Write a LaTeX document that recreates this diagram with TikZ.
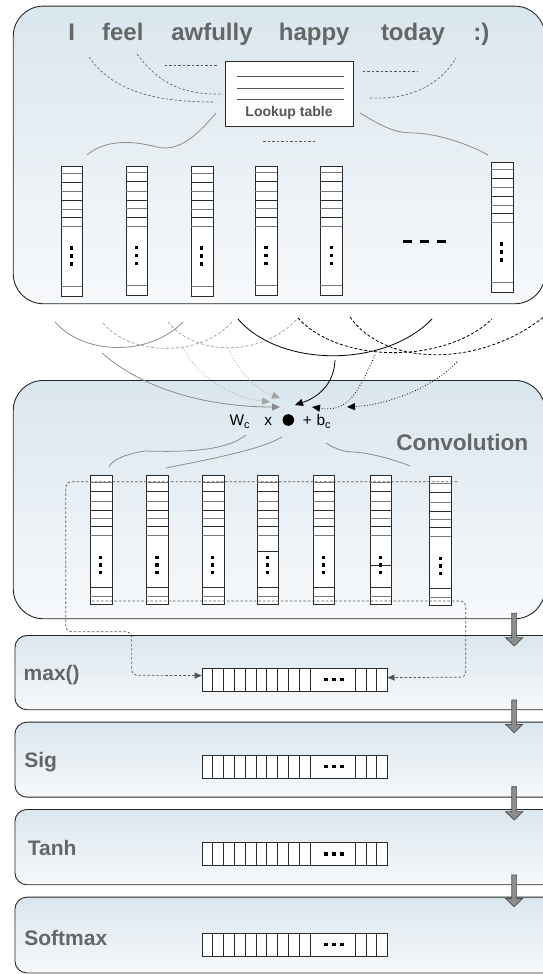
\documentclass[tikz,border=0pt]{standalone}
\usepackage{fontspec}
\setmainfont{Liberation Sans}
\usetikzlibrary{arrows.meta,calc}
\definecolor{pbtop}{HTML}{DAE6EE}
\definecolor{pbbot}{HTML}{F7F9FB}
\definecolor{wordgray}{HTML}{666666}
\definecolor{lutgray}{HTML}{555555}
\definecolor{linedark}{HTML}{2A2A2A}
\definecolor{linegray}{HTML}{7A7A7A}
\definecolor{arcgray}{HTML}{8C8C8C}
\definecolor{arclight}{HTML}{A4A4A4}
\definecolor{dashgray}{HTML}{555555}
\definecolor{blockfill}{HTML}{8E8E8E}

\newcommand{\topvec}[3]{%
  \node[vbox, minimum height=129.7pt] (#1) at (#2,#3) {};
  \begin{scope}[shift={(#2,#3)}]
    \foreach \d/\c in {7.3/linegray,16.3/linedark,25.7/linegray,34.7/linedark,43/linegray,51.7/linedark,60.7/linegray,120/linegray}
      \draw[\c, line width=0.8pt] (0,\d) -- (21.7,\d);
    \foreach \d in {82,90,98} \fill (9.25,\d-1.6) rectangle ++(3.2,3.2);
  \end{scope}}

\newcommand{\convvec}[3]{%
  \node[vbox, minimum height=129.3pt] (#1) at (#2,#3) {};
  \begin{scope}[shift={(#2,#3)}]
    \foreach \d/\c in {7.3/linegray,16/linedark,26/linegray,35/linedark,43.3/linegray,51.7/linedark,60.7/linegray,112.3/linedark,121/linegray}
      \draw[\c, line width=0.8pt] (0,\d) -- (21.7,\d);
    \foreach \d in {82.3,90,97.7} \fill (9.25,\d-1.6) rectangle ++(3.2,3.2);
  \end{scope}}

\newcommand{\hvec}[2]{%
  \node[hbox] (#1) at (201.7,#2) {};
  \begin{scope}[shift={(201.7,#2)}]
    \foreach \d in {11,21.6,32.6,43.6,54.3,65,75.6,86.6,97.6,108.3,154,165,175}
      \draw[linedark, line width=0.8pt] (\d,0) -- (\d,23);
    \foreach \d in {-8,0,8} \fill (132.3+\d-1.6,11.6-1.6) rectangle ++(3.2,3.2);
  \end{scope}}

\newcommand{\blockarr}[2]{%
  \filldraw[blockarrow] (511.8,#1) -- (516.6,#1) -- (516.6,#2-8.3) -- (522.8,#2-8.3) -- (514.2,#2) -- (505.6,#2-8.3) -- (511.8,#2-8.3) -- cycle;}

\begin{document}
\begin{tikzpicture}[x=1pt,y=-1pt,
  panel/.style={draw=black!85, line width=0.9pt, rounded corners=30pt, top color=pbtop, bottom color=pbbot, inner sep=0pt, anchor=north west},
  lpanel/.style={draw=black!85, line width=0.9pt, rounded corners=12pt, top color=pbtop, bottom color=pbbot, inner sep=0pt, anchor=north west, minimum width=540.5pt},
  vbox/.style={draw=linedark, fill=white, line width=0.8pt, minimum width=21.7pt, inner sep=0pt, anchor=north west},
  hbox/.style={draw=linedark, fill=white, line width=0.8pt, minimum width=185pt, minimum height=23pt, inner sep=0pt, anchor=north west},
  word/.style={text=wordgray, font=\fontsize{24}{24}\selectfont\bfseries, anchor=base, inner sep=0pt},
  lbl/.style={text=wordgray, font=\fontsize{21}{21}\selectfont\bfseries, inner sep=0pt},
  eq/.style={text=black, font=\fontsize{15.4}{15.4}\selectfont, anchor=base, inner sep=0pt},
  tdash/.style={draw=dashgray, line width=0.6pt, dash pattern=on 2.5pt off 2pt},
  arcg/.style={draw=arcgray, line width=0.8pt},
  arcl/.style={draw=arclight, line width=0.8pt},
  arck/.style={draw=black, line width=0.8pt},
  tip/.style={-{Triangle[length=8pt,width=7pt]}},
  mdash/.style={draw=dashgray, line width=0.7pt, dash pattern=on 2.5pt off 2pt, rounded corners=5pt, -{Triangle[length=7pt,width=6pt]}},
  blockarrow/.style={fill=blockfill, draw=black!70, line width=0.7pt}
]
\useasboundingbox (0,0) rectangle (543,974);

% ---------- panels ----------
\node[panel, minimum width=531.7pt, minimum height=297.6pt] (toppanel) at (12.8,5.7) {};
\node[panel, minimum width=531.7pt, minimum height=238.3pt] (convpanel) at (12.8,380) {};
\node[lpanel, minimum height=74.3pt] (maxpanel) at (14.5,635) {};
\node[lpanel, minimum height=75pt] (sigpanel) at (14.5,721.7) {};
\node[lpanel, minimum height=75.3pt] (tanhpanel) at (14.5,809) {};
\node[lpanel, minimum height=75.8pt] (softpanel) at (14.5,896.7) {};

% ---------- words ----------
\node[word] (w1) at (71.8,41) {I};
\node[word] (w2) at (122.8,41) {feel};
\node[word] (w3) at (212,41) {awfully};
\node[word] (w4) at (314.2,41) {happy};
\node[word] (w5) at (413,41) {today};
\node[word] (w6) at (481.3,41) {:)};

% ---------- lookup table ----------
\node[draw=linedark, fill=white, line width=0.8pt, minimum width=128pt, minimum height=65pt, inner sep=0pt, anchor=north west] (lut) at (225,60.7) {};
\foreach \yy in {76.7,88.3,99.3} \draw[lutgray, line width=0.9pt] (236.5,\yy) -- (344,\yy);
\node[text=lutgray, font=\fontsize{14}{14}\selectfont\bfseries, inner sep=0pt] (luttext) at (289,113.3) {Lookup table};

% dashed links words -> table
\draw[tdash] (89,57) .. controls (115,95) and (165,102) .. (214,102);
\draw[tdash] (137,54) .. controls (160,85) and (185,95) .. (223,94);
\draw[tdash] (164.5,65.7) -- (218,65.7);
\draw[tdash] (362.5,71) -- (417,71);
\draw[tdash] (370,98) .. controls (410,100) and (440,85) .. (456,58);
\draw[tdash] (263,141.7) -- (316,141.7);
% table -> vectors
\draw[arcg] (87,155) .. controls (105,140) and (130,140) .. (157,147) .. controls (180,153) and (200,132) .. (216,113);
\draw[arcg] (360,113) .. controls (385,128) and (395,133) .. (415,133) .. controls (440,134) and (470,145) .. (488,155);

% ---------- word vectors ----------
\topvec{t1}{60.7}{166}
\topvec{t2}{125.5}{165.5}
\topvec{t3}{190.8}{166}
\topvec{t4}{255.2}{165.5}
\topvec{t5}{320.3}{165.5}
\topvec{t6}{491}{162}
\foreach \xx in {402.7,420,437} \draw[line width=2.7pt] (\xx,241.7) -- (\xx+9.3,241.7);

% ---------- window arcs ----------
\draw[arcg] (55,322) .. controls (85,356) and (150,356) .. (183,322);
\draw[arcl, dash pattern=on 3pt off 2pt] (103,323) .. controls (130,356) and (200,358) .. (232,322);
\draw[arcl, dash pattern=on 3pt off 2pt] (168,322) .. controls (195,356) and (262,358) .. (298,318);
\draw[arck] (238,319) .. controls (280,368) and (385,368) .. (432,319);
\draw[arck, dash pattern=on 3pt off 2pt] (298,318) .. controls (340,364) and (445,364) .. (492,319);
\draw[arck, dash pattern=on 3pt off 2pt] (350,317) .. controls (385,367) and (480,368) .. (545,316);

% ---------- convolution operator ----------
\node[eq, anchor=base west] (wc) at (229.3,425) {W\raisebox{-3pt}{\fontsize{11}{11}\selectfont c}};
\node[eq] (times) at (268.3,425) {x};
\node[circle, fill=black, inner sep=0pt, minimum size=11.6pt] (dot) at (288.3,420) {};
\node[eq] (plus) at (307.3,425) {+};
\node[eq, anchor=base west] (bc) at (316.3,425) {b\raisebox{-3pt}{\fontsize{11}{11}\selectfont c}};

\coordinate (ta) at (280,407);
\coordinate (tb) at (270,402);
\coordinate (tc) at (280,398);
\coordinate (td) at (295,405);
\coordinate (te) at (312,407);
\coordinate (tf) at (347,407);
\draw[arcg, -{Triangle[length=8pt,width=7pt,fill=arcgray]}] (102,353) .. controls (150,395) and (220,407) .. (ta);
\draw[arcl, dotted, -{Triangle[length=8pt,width=7pt,fill=arclight]}] (183,348) .. controls (200,380) and (235,398) .. (tb);
\draw[arcl, dotted, -{Triangle[length=8pt,width=7pt,fill=arclight]}] (228,348) .. controls (240,375) and (258,390) .. (tc);
\draw[arck, tip] (335,360) .. controls (334,386) and (316,398) .. (td);
\draw[arck, dotted, tip] (375,355) .. controls (355,400) and (345,412) .. (te);
\draw[arck, dotted, tip] (457,362) .. controls (430,390) and (385,405) .. (tf);

\node[lbl, font=\fontsize{22.6}{22.6}\selectfont\bfseries] (convlbl) at (462.3,442.7) {Convolution};

% operator -> feature vectors
\draw[arcg] (246,435) .. controls (225,452) and (180,452) .. (145,451) .. controls (125,454) and (112,460) .. (109,467);
\draw[arcg] (282,437) .. controls (260,450) and (210,459) .. (166,468);
\draw[arcg] (326,443) .. controls (337,450) and (345,452) .. (355,452) .. controls (375,454) and (395,460) .. (410,466);

% ---------- feature vectors ----------
\convvec{c1}{90}{475}
\convvec{c2}{146.1}{475}
\convvec{c3}{201.9}{475}
\convvec{c4}{256.6}{475}
\convvec{c5}{312.7}{475}
\convvec{c6}{369.5}{475}
\convvec{c7}{429.4}{476}
\draw[linedark, line width=0.8pt] (256.6,551.7) -- (278.3,551.7);
\draw[linedark, line width=0.8pt] (369.5,565.7) -- (391.2,565.7);

% ---------- lower layers ----------
\hvec{hmax}{667.7}
\hvec{hsig}{755}
\hvec{htanh}{842.3}
\hvec{hsoft}{932.5}
\node[lbl, anchor=west] (lmax) at (23.5,675) {max()};
\node[lbl, anchor=west] (lsig) at (24.2,761.7) {Sig};
\node[lbl, anchor=west] (ltanh) at (27.7,848.3) {Tanh};
\node[lbl, anchor=west] (lsoft) at (24.2,938.3) {Softmax};

% max pooling paths
\coordinate (dl) at (457,481.7);
\coordinate (dr) at (91.8,601);
\draw[mdash] (dl) -- (65.8,481.7) -- (65.8,631.7) -- (131.6,631.7) -- (131.6,675.2) -- ([yshift=4pt]hmax.west);
\draw[mdash] (dr) -- (465.7,601) -- (465.7,677.2) -- ([yshift=2pt]hmax.east);

% block arrows between layers
\blockarr{613.3}{646}
\blockarr{700}{732.7}
\blockarr{786.7}{820}
\blockarr{875}{906.7}
\end{tikzpicture}
\end{document}
